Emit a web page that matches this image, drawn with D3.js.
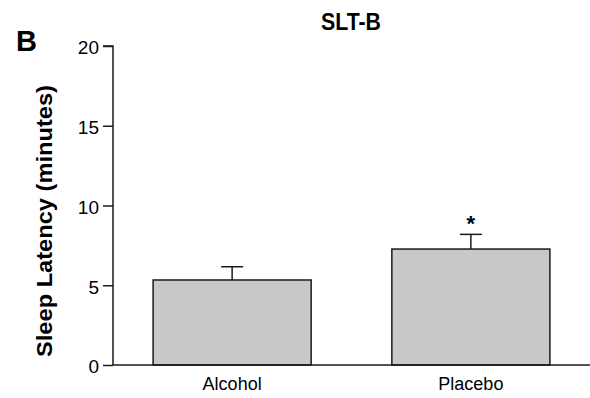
<!DOCTYPE html>
<html><head><meta charset="utf-8">
<script src="https://cdn.jsdelivr.net/npm/d3@7"></script>
<style>
body{margin:0;background:#fff;}
svg text{font-family:"Liberation Sans",Arial,Helvetica,sans-serif;fill:#000;}
</style></head><body>
<svg id="c" width="590" height="398"></svg>
<script>
const categories = ["Alcohol", "Placebo"];
const means = [5.33, 7.27];
const errors = [0.83, 0.92];
const significant = [false, true];
const yTicks = [0, 5, 10, 15, 20];
const title = "SLT-B";
const panel = "B";
const yLabel = "Sleep Latency (minutes)";

const svg = d3.select("#c");
const m = {left:113, right:0, top:46, bottom:33};
const W = 590, H = 398;
const x = d3.scaleBand().domain(categories).range([m.left, W]).paddingInner(0.338).paddingOuter(0.168);
const y = d3.scaleLinear().domain([0,20]).range([H-m.bottom, m.top]);
const ink = "#1a1a1a";

// bars
svg.selectAll("rect.bar").data(categories).join("rect")
  .attr("x", d=>x(d)).attr("width", x.bandwidth())
  .attr("y", (d,i)=>y(means[i])).attr("height",(d,i)=>y(0)-y(means[i]))
  .attr("fill","#c8c8c8").attr("stroke",ink).attr("stroke-width",1.5);

// error bars
const cap = 11;
categories.forEach((c,i)=>{
  const cx = x(c)+x.bandwidth()/2;
  const top = y(means[i]+errors[i]);
  svg.append("line").attr("x1",cx).attr("x2",cx).attr("y1",y(means[i])).attr("y2",top)
    .attr("stroke",ink).attr("stroke-width",1.5);
  svg.append("line").attr("x1",cx-cap).attr("x2",cx+cap).attr("y1",top).attr("y2",top)
    .attr("stroke",ink).attr("stroke-width",1.5);
  if (significant[i]) {
    svg.append("text").attr("x",cx).attr("y",top-3).attr("text-anchor","middle")
      .attr("font-size",22).attr("font-weight","bold").text("*");
  }
});

// y axis
const ya = svg.append("g").attr("transform",`translate(${m.left},0)`)
  .call(d3.axisLeft(y).tickValues(yTicks).tickSize(10).tickPadding(4));
ya.select(".domain").attr("stroke",ink).attr("stroke-width",1.5).attr("d",`M-10,${y(20)}H0V${y(0)}`);
ya.selectAll(".tick line").attr("stroke",ink).attr("stroke-width",1.5);
ya.selectAll(".tick text").attr("font-size",19).attr("dy","0.42em")
  .style("font-family",'"Liberation Sans",Arial,sans-serif');

// x axis baseline
const xa = svg.append("g").attr("transform",`translate(0,${y(0)})`)
  .call(d3.axisBottom(x).tickSize(0).tickPadding(10));
xa.select(".domain").attr("stroke",ink).attr("stroke-width",1.5).attr("d",`M${m.left},0H${W}`);
xa.selectAll(".tick text").attr("font-size",18).attr("dy",null).attr("y",25)
  .style("font-family",'"Liberation Sans",Arial,sans-serif');

// titles
svg.append("text").attr("x",351).attr("y",29.5).attr("text-anchor","middle")
  .attr("font-size",23).attr("font-weight","bold")
  .attr("textLength",60).attr("lengthAdjust","spacingAndGlyphs").text(title);
svg.append("text").attr("x",16).attr("y",51)
  .attr("font-size",29).attr("font-weight","bold").text(panel);
svg.append("text").attr("transform",`translate(52,221) rotate(-90)`).attr("text-anchor","middle")
  .attr("font-size",22.5).attr("font-weight","bold")
  .attr("textLength",272).attr("lengthAdjust","spacingAndGlyphs").text(yLabel);
</script></body></html>
